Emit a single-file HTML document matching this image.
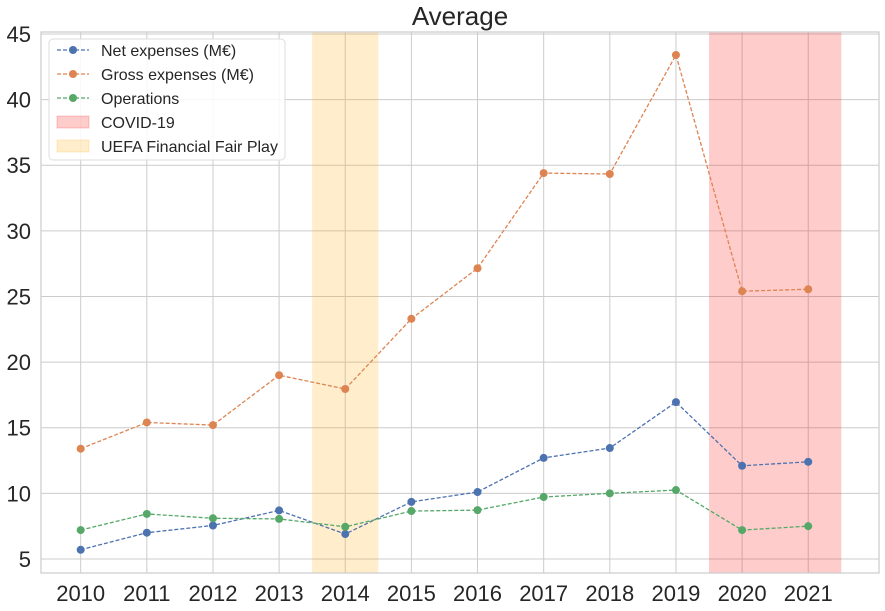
<!DOCTYPE html>
<html><head><meta charset="utf-8">
<style>
html,body{margin:0;padding:0;background:#fff;}
svg{display:block;font-family:"Liberation Sans","DejaVu Sans",sans-serif;}
</style></head>
<body>
<svg id="chart" width="885" height="611" viewBox="0 0 885 611"></svg>
<script>
const years=[2010,2011,2012,2013,2014,2015,2016,2017,2018,2019,2020,2021];
const netExpenses=[5.7,7.0,7.55,8.7,6.9,9.35,10.1,12.7,13.45,16.95,12.1,12.4];
const grossExpenses=[13.4,15.4,15.2,19.0,17.95,23.3,27.15,34.4,34.33,43.4,25.4,25.55];
const operations=[7.2,8.43,8.1,8.05,7.45,8.65,8.72,9.72,10.0,10.25,7.2,7.5];
const yTicks=[5,10,15,20,25,30,35,40,45];
const covidSpan=[2019.5,2021.5];
const ffpSpan=[2013.5,2014.5];

const L=41,R=879,T=32,B=573;
const xMin=2009.4,xMax=2022.07,yMin=3.93,yMax=45.15;
const sx=v=>L+(v-xMin)/(xMax-xMin)*(R-L);
const sy=v=>B-(v-yMin)/(yMax-yMin)*(B-T);
const NS="http://www.w3.org/2000/svg";
const svg=document.getElementById('chart');
function mk(tag,attrs,parent){const e=document.createElementNS(NS,tag);for(const k in attrs)e.setAttribute(k,attrs[k]);(parent||svg).appendChild(e);return e;}

years.forEach(y=>{const l=mk('line',{x1:sx(y),x2:sx(y),y1:T,y2:B,stroke:'#cccccc','stroke-width':1});

});
yTicks.forEach(v=>{const l=mk('line',{x1:L,x2:R,y1:sy(v),y2:sy(v),stroke:'#cccccc','stroke-width':1});

});

const ffp=mk('rect',{x:sx(ffpSpan[0]),y:T,width:sx(ffpSpan[1])-sx(ffpSpan[0]),height:B-T,fill:'#ffa500','fill-opacity':0.2});


const cov=mk('rect',{x:sx(covidSpan[0]),y:T,width:sx(covidSpan[1])-sx(covidSpan[0]),height:B-T,fill:'#ff0000','fill-opacity':0.2});



const fr=mk('rect',{x:L,y:T,width:R-L,height:B-T,fill:'none',stroke:'#cccccc','stroke-width':1.2});



yTicks.forEach(v=>{const t=mk('text',{x:L-10,y:sy(v)+8,'text-anchor':'end','font-size':22,fill:'#262626'});t.textContent=v;

});
years.forEach(y=>{const t=mk('text',{x:sx(y),y:B+28,'text-anchor':'middle','font-size':22,fill:'#262626'});t.textContent=y;

});

const title=mk('text',{x:(L+R)/2,y:25,'text-anchor':'middle','font-size':26,fill:'#262626'});
title.textContent='Average';



function series(vals,color,name){
  const g=mk('g',{});
  
  
  mk('polyline',{points:vals.map((v,i)=>sx(years[i])+','+sy(v)).join(' '),fill:'none',stroke:color,'stroke-width':1.3,'stroke-dasharray':'4,2'},g);
  vals.forEach((v,i)=>{const c=mk('circle',{cx:sx(years[i]),cy:sy(v),r:4,fill:color},g);
  
  });
}
series(grossExpenses,'#dd8452','gross-expenses-series');
series(netExpenses,'#4c72b0','net-expenses-series');
series(operations,'#55a868','operations-series');

const lg=mk('g',{});


mk('rect',{x:49,y:39,width:236,height:121,rx:4,fill:'#fff','fill-opacity':0.85,stroke:'#dddddd'},lg);
const items=[['Net expenses (M€)','#4c72b0','line'],['Gross expenses (M€)','#dd8452','line'],['Operations','#55a868','line'],['COVID-19','#ff0000','patch'],['UEFA Financial Fair Play','#ffa500','patch']];
items.forEach((it,i)=>{
  const y=50+i*24;
  const e=mk('g',{},lg);
  
  
  if(it[2]==='line'){
    mk('line',{x1:57,x2:89,y1:y,y2:y,stroke:it[1],'stroke-width':1.3,'stroke-dasharray':'4,2'},e);
    mk('circle',{cx:73,cy:y,r:4,fill:it[1]},e);
  } else {
    mk('rect',{x:57,y:y-6,width:32,height:12,fill:it[1],'fill-opacity':0.2,stroke:it[1],'stroke-opacity':0.2},e);
  }
  const t=mk('text',{x:101,y:y+6,'font-size':16,fill:'#262626'},e);t.textContent=it[0];
});
</script>
</body></html>
